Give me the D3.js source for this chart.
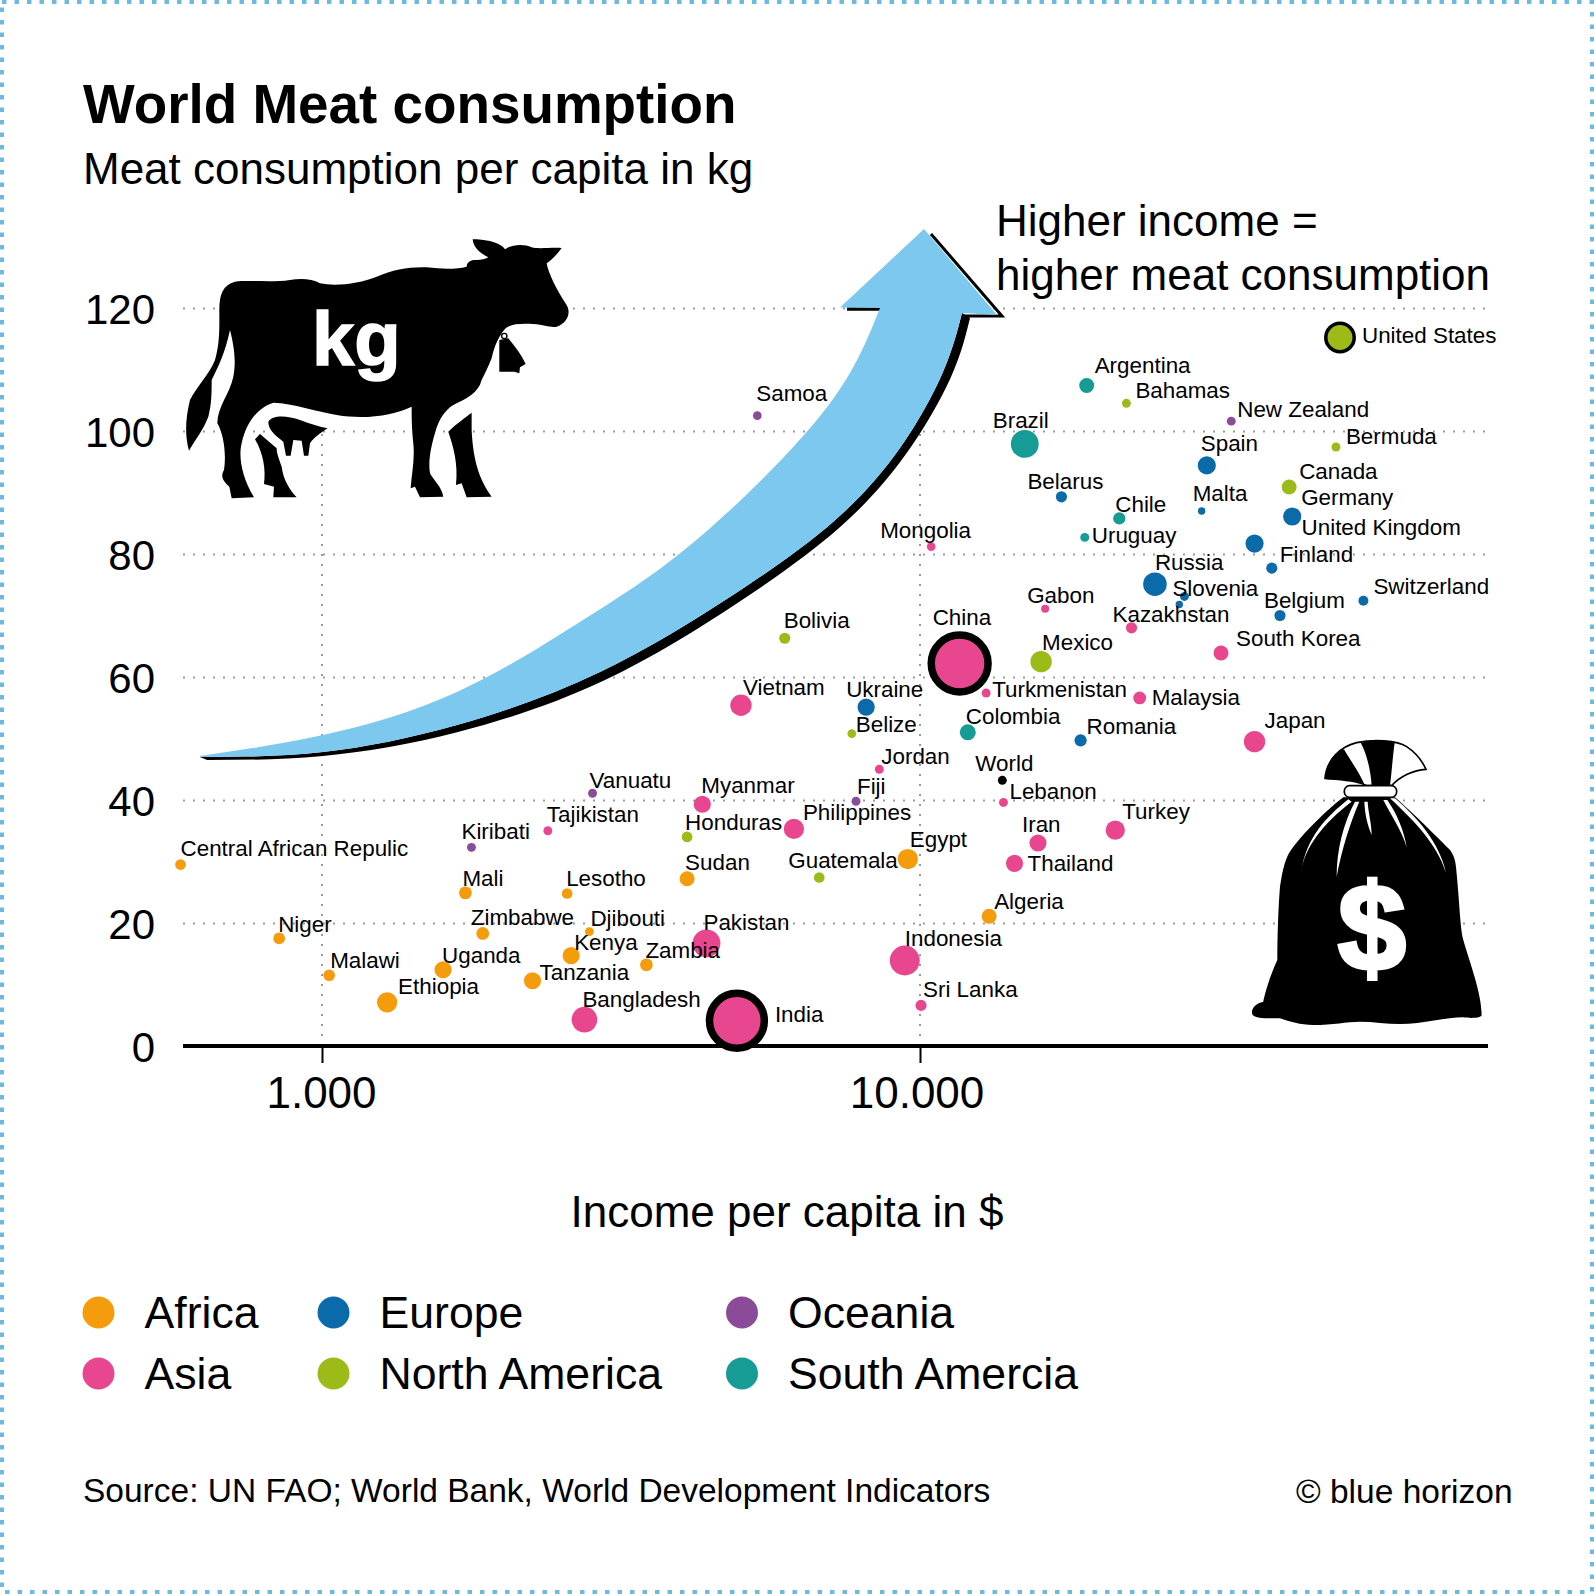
<!DOCTYPE html>
<html>
<head>
<meta charset="utf-8">
<script src="https://cdnjs.cloudflare.com/ajax/libs/d3/7.8.5/d3.min.js"></script>
<style>
html, body { margin: 0; padding: 0; background: #fff; }
svg { display: block; }
text { font-family: "Liberation Sans", Arial, sans-serif; fill: #000; }
</style>
</head>
<body>
<svg id="chart" width="1594" height="1594"></svg>
<script>
// values
var countries = ['Central African Repulic','Niger','Malawi','Ethiopia','Uganda','Mali','Zimbabwe','Tanzania','Lesotho','Kenya','Djibouti','Zambia','Sudan','Egypt','Algeria',
  'Bangladesh','India','Pakistan','Myanmar','Tajikistan','Vietnam','Philippines','Indonesia','Sri Lanka','Jordan','China','Mongolia','Turkmenistan','Iran','Thailand','Lebanon','Turkey','Malaysia','Japan','South Korea','Kazakhstan','Gabon',
  'Ukraine','Romania','Russia','Slovenia','','Spain','Belarus','Malta','Germany','United Kingdom','Finland','Belgium','Switzerland',
  'United States','Canada','Bermuda','Bahamas','Mexico','Bolivia','Belize','Honduras','Guatemala',
  'Argentina','Brazil','Chile','Uruguay','Colombia',
  'Samoa','Vanuatu','Kiribati','Fiji','New Zealand','World']
var continents = ['Africa','Africa','Africa','Africa','Africa','Africa','Africa','Africa','Africa','Africa','Africa','Africa','Africa','Africa','Africa',
  'Asia','Asia','Asia','Asia','Asia','Asia','Asia','Asia','Asia','Asia','Asia','Asia','Asia','Asia','Asia','Asia','Asia','Asia','Asia','Asia','Asia','Asia',
  'Europe','Europe','Europe','Europe','Europe','Europe','Europe','Europe','Europe','Europe','Europe','Europe','Europe',
  'North America','North America','North America','North America','North America','North America','North America','North America','North America',
  'South Amercia','South Amercia','South Amercia','South Amercia','South Amercia',
  'Oceania','Oceania','Oceania','Oceania','Oceania','World']
var income = [580,848,1028,1285,1594,1737,1857,2249,2570,2610,2800,3487,4079,9541,13050,
  2747,4941,4395,4325,2386,5019,6154,9430,10040,8550,11650,10440,12900,15750,14390,13790,21210,23300,36260,31870,22580,16190,
  8127,18560,24710,27680,27140,30170,17240,29580,41920,36260,38750,39990,55140,
  50390,41430,49610,22140,15940,5940,7690,4079,6785,
  19000,14970,21540,18860,12020,
  5345,2834,1778,7815,33150,13730]
var meat = [29.5,17.5,11.5,7.1,12.4,24.9,18.3,10.6,24.8,14.7,18.6,13.2,27.2,30.4,21.1,
  4.3,4.1,16.7,39.3,35,55.4,35.3,13.9,6.6,45,62.2,81.2,57.4,33,29.7,39.6,35.1,56.6,49.5,63.9,68,71.1,
  55.1,49.7,75.1,73.1,71.8,94.4,89.3,87,86.1,81.7,77.7,70,72.4,
  115.2,90.9,97.4,104.5,62.5,66.3,50.8,34,27.4,
  107.4,97.9,85.8,82.7,51,
  102.5,41.1,32.3,39.8,101.6,43.2]
// bubble areas, in millions of people
var population = [46,55,55,166,118,66,66,118,46,118,32,66,90,166,90,
  265,1210,311,118,32,184,166,360,50,32,1300,30,32,118,118,32,149,66,184,90,50,26,
  118,60,222,32,22,133,50,22,133,133,50,50,40,
  325,90,32,32,184,50,30,46,46,
  90,311,60,32,103,
  30,32,32,32,32,32]

var yTicks = [0,20,40,60,80,100,120]
var xTicks = [1000,10000]
var legendRows = [['Africa','Asia'],['Europe','North America'],['Oceania','South Amercia']]

var colors = {
  'Africa': '#f59c0c', 'Asia': '#e8478f', 'Europe': '#0b6aa9',
  'North America': '#9dbb18', 'Oceania': '#8a4b98', 'South Amercia': '#169b95', 'World': '#000'
}
var ringed = ['India','China','United States']

// label start relative to the bubble centre, placed by hand
var labelOffsets = {
  'Central African Repulic':[0,-9],'Niger':[-1,-6],'Malawi':[1,-7],'Ethiopia':[11,-8],'Uganda':[-1,-7],'Mali':[-3,-7],'Zimbabwe':[-12,-8],'Tanzania':[7,-1],'Lesotho':[-1,-7],'Kenya':[3,-6],'Djibouti':[1,-6],'Zambia':[-1,-7],'Sudan':[-2,-9],'Egypt':[2,-12],'Algeria':[5,-7],
  'Bangladesh':[-2,-13],'India':[38,1],'Pakistan':[-3,-13],'Myanmar':[-1,-11],'Tajikistan':[-1,-9],'Vietnam':[2,-10],'Philippines':[9,-9],'Indonesia':[0,-15],'Sri Lanka':[2,-8],'Jordan':[2,-5],'China':[-27,-38],'Mongolia':[-51,-9],'Turkmenistan':[6,4],'Iran':[-16,-11],'Thailand':[13,8],'Lebanon':[6,-3],'Turkey':[7,-11],'Malaysia':[12,7],'Japan':[10,-14],'South Korea':[15,-7],'Kazakhstan':[-19,-6],'Gabon':[-18,-6],
  'Ukraine':[-20,-10],'Romania':[6,-6],'Russia':[0,-14],'Slovenia':[-12,0],'Spain':[-6,-14],'Belarus':[-34,-8],'Malta':[-9,-10],'Germany':[9,-11],'United Kingdom':[47,-9],'Finland':[8,-6],'Belgium':[-16,-8],'Switzerland':[10,-7],
  'United States':[22,5],'Canada':[10,-8],'Bermuda':[10,-3],'Bahamas':[9,-5],'Mexico':[1,-12],'Bolivia':[-1,-10],'Belize':[4,-2],'Honduras':[-2,-7],'Guatemala':[-31,-9],
  'Argentina':[8,-12],'Brazil':[-32,-16],'Chile':[-4,-6],'Uruguay':[7,6],'Colombia':[-2,-8],
  'Samoa':[-1,-15],'Vanuatu':[-3,-5],'Kiribati':[-10,-8],'Fiji':[1,-7],'New Zealand':[6,-4],'World':[-27,-9]
}

var svg = d3.select('#chart')

var left = 183, right = 1488, bottom = 1046

var x = d3.scaleLog().domain([1000,10000]).range([322,920])
var y = d3.scaleLinear().domain([0,120]).range([bottom,308])
var r = d3.scaleSqrt().domain([0,1400]).range([0,29.5])

// dotted frame
svg.append('rect')
  .attr('x',2).attr('y',2).attr('width',1590).attr('height',1590)
  .attr('fill','none').attr('stroke','#6db9e0').attr('stroke-width',4)
  .attr('stroke-dasharray','4.5 8')

// horizontal grid and y labels
var yAxis = svg.append('g')
  .attr('transform','translate('+left+',0)')
  .call(d3.axisLeft(y).tickValues(yTicks).tickSize(-(right-left)).tickPadding(28))
yAxis.select('.domain').remove()
yAxis.selectAll('line')
  .attr('stroke','#9a9a9a').attr('stroke-width',2).attr('stroke-dasharray','2 8')
yAxis.selectAll('text')
  .attr('font-size',42).attr('font-family','"Liberation Sans"').attr('fill','#000')
  .attr('dy','0.37em')

// vertical grid stops at the 100 line
svg.selectAll('.vgrid')
  .data(xTicks)
  .enter()
  .append('line')
  .attr('class','vgrid')
  .attr('x1',function(d){ return x(d) })
  .attr('x2',function(d){ return x(d) })
  .attr('y1',bottom)
  .attr('y2',y(100))
  .attr('stroke','#9a9a9a').attr('stroke-width',2).attr('stroke-dasharray','2 8')

// x axis
var xAxis = svg.append('g')
  .attr('transform','translate(0,'+bottom+')')
  .call(d3.axisBottom(x).tickValues(xTicks).tickSize(17).tickPadding(14)
    .tickFormat(function(d){ return d3.format(',')(d).replace(',','.') }))
xAxis.select('.domain').remove()
xAxis.selectAll('line').attr('stroke','#000').attr('stroke-width',2)
xAxis.selectAll('text')
  .attr('font-size',44).attr('font-family','"Liberation Sans"').attr('fill','#000')
  .attr('x',function(d){ return d == 10000 ? -3.5 : -1 })
svg.append('line')
  .attr('x1',left).attr('x2',right).attr('y1',bottom).attr('y2',bottom)
  .attr('stroke','#000').attr('stroke-width',4)

// curved arrow with black edge
var arrowUpper = [[200,756],[323,735],[457,692],[583,620],[683,551],[783,458],[847,378],[880,308]]
var arrowLower = [[962,313],[943,372],[900,448],[833,522],[733,595],[600,672],[457,725],[323,752],[200,757]]
var arrowShadow = [[970,318],[951,377],[906,454],[839,528],[739,602],[605,680],[458,732],[323,756],[207,760]]
var curve = d3.line().curve(d3.curveNatural)
svg.append('path').attr('fill','#000')
  .attr('d',curve(arrowShadow) + curve(arrowLower.slice().reverse()).replace(/^M/,'L') + 'Z')
svg.append('path').attr('fill','none').attr('stroke','#000').attr('stroke-width',3)
  .attr('d','M931,234L1002,316L962,316')
svg.append('path').attr('fill','none').attr('stroke','#000').attr('stroke-width',3.5)
  .attr('d','M847,309L881,309')
svg.append('path').attr('fill','#7cc8ee')
  .attr('d',curve(arrowUpper) + 'L840,307.5L924,229L997,315L962,313' + curve(arrowLower).replace(/^M/,'L') + 'Z')

// cow, traced in crop coordinates
var cow = svg.append('g').attr('transform','translate(180,230) scale(0.3333)')
var cowShapes = [
  'M118,240C118,190 130,165 165,155C210,150 280,158 330,150C360,145 395,145 420,160C470,170 540,160 590,140C640,118 690,110 740,112C790,118 830,118 860,110C860,95 875,88 890,90C905,90 915,88 925,82' +
  'C905,72 880,55 878,28C910,28 960,35 975,58C990,45 1030,40 1055,52C1075,58 1110,52 1145,54C1130,75 1115,90 1100,100C1105,130 1130,180 1160,225C1175,250 1160,280 1130,290C1110,293 1095,285 1060,282C1030,280 990,280 975,297' +
  'C960,315 945,340 935,385C925,410 915,430 905,450C895,490 860,505 820,525C795,540 775,570 765,610C750,660 745,700 750,730C760,750 785,770 790,800L720,802L705,770L692,775C695,730 705,690 700,640C695,590 695,560 695,530' +
  'C640,555 560,570 470,555C410,545 340,520 280,518C240,530 200,570 185,640C175,680 185,740 222,802L155,805L148,770C130,755 120,740 132,720C140,670 130,610 112,580C112,530 150,490 160,440C170,390 160,340 150,300' +
  'C135,370 115,410 95,450C95,490 95,520 85,560C70,600 45,630 27,662C15,620 15,570 30,510C50,470 90,430 105,390C120,340 118,290 118,240Z',
  'M875,548C860,560 830,580 805,605C820,650 835,700 828,765L845,760L860,802L935,800C900,750 880,700 875,600Z',
  'M240,612L225,628C250,670 258,720 252,762L282,770L280,802L350,802C330,780 310,750 305,710C295,680 290,670 290,655Z',
  'M265,575C275,555 320,555 360,570C390,582 420,590 443,595C420,610 400,625 390,640L385,677L372,677L365,632L340,630L332,677L318,677L310,635C285,615 265,600 265,575Z',
  'M958,330L985,325C1005,350 1025,375 1037,402L1020,412L1018,430L1003,425L958,425Z'
]
cow.selectAll('path')
  .data(cowShapes)
  .enter()
  .append('path')
  .attr('fill','#000')
  .attr('d',function(d){ return d })
cow.append('circle').attr('cx',973).attr('cy',318).attr('r',8)
  .attr('fill','#fff').attr('stroke','#000').attr('stroke-width',4)
svg.append('text').text('kg')
  .attr('x',312).attr('y',365)
  .attr('font-size',76).attr('font-weight','bold')
  .style('fill','#fff').style('stroke','#fff').style('stroke-width',1.5)

// money bag, traced in crop coordinates
var bag = svg.append('g').attr('transform','translate(1200,720) scale(0.3333)')
bag.append('path').attr('fill','#000').attr('d',
  'M430,232C380,270 320,330 280,380C255,410 248,450 240,500C235,560 232,650 232,720C200,790 190,845 190,845C165,850 150,870 158,885C170,897 210,895 240,895C270,905 300,915 340,915C400,915 440,905 480,905C520,905 560,912 600,912C670,912 740,892 790,892C810,895 845,895 845,885C845,820 810,730 790,660C780,620 780,560 768,440C765,410 755,395 745,385C710,350 640,280 585,232Z')
bag.append('path').attr('fill','#fff').attr('stroke','#000').attr('stroke-width',5).attr('d',
  'M375,175C380,120 420,80 470,68C520,58 590,60 620,80C650,100 670,130 678,148C640,150 600,170 575,197L500,197C470,180 420,180 375,175Z')
bag.append('path').attr('fill','#000').attr('d',
  'M375,175C380,120 410,95 432,88C450,120 480,160 495,197C470,180 420,180 375,175Z')
bag.append('path').attr('fill','#000').attr('d',
  'M482,68C520,58 560,60 584,68C578,110 575,160 570,197L515,197C512,150 500,100 482,68Z')
bag.append('rect').attr('x',433).attr('y',197).attr('width',157).attr('height',35).attr('rx',16)
  .attr('fill','#fff').attr('stroke','#000').attr('stroke-width',5)
var bagStreaks = [
  'M445,238C380,290 320,350 303,455C315,380 370,310 455,245Z',
  'M465,245C430,310 410,390 410,470C425,390 450,310 478,245Z',
  'M493,245C495,290 505,320 515,345C515,310 505,280 503,245Z',
  'M550,240C575,290 605,330 620,382C612,330 590,280 562,240Z',
  'M570,235C640,300 710,370 738,458C720,370 650,290 585,235Z'
]
bag.selectAll('.streak')
  .data(bagStreaks)
  .enter()
  .append('path')
  .attr('class','streak')
  .attr('fill','#fff')
  .attr('d',function(d){ return d })
svg.append('text').text('$')
  .attr('x',1372).attr('y',970).attr('text-anchor','middle')
  .attr('font-size',122).attr('font-weight','bold')
  .style('fill','#fff').style('stroke','#fff').style('stroke-width',4)

// bubbles
var data = countries.map(function(name,i){
  return { name: name, continent: continents[i], income: income[i], meat: meat[i], pop: population[i] }
})

svg.selectAll('.dot')
  .data(data)
  .enter()
  .append('circle')
  .attr('class','dot')
  .attr('cx',function(d){ return x(d.income) })
  .attr('cy',function(d){ return y(d.meat) })
  .attr('r',function(d){ return r(d.pop) })
  .attr('fill',function(d){ return colors[d.continent] })
  .attr('stroke',function(d){ return ringed.indexOf(d.name) >= 0 ? '#000' : 'none' })
  .attr('stroke-width',function(d){ return d.name == 'United States' ? 3.5 : 7.5 })

svg.selectAll('.label')
  .data(data.filter(function(d){ return d.name != '' }))
  .enter()
  .append('text')
  .attr('class','label')
  .attr('x',function(d){ return x(d.income) + labelOffsets[d.name][0] })
  .attr('y',function(d){ return y(d.meat) + labelOffsets[d.name][1] })
  .attr('font-size',22.4)
  .text(function(d){ return d.name })

// titles
svg.append('text').text('World Meat consumption')
  .attr('x',83).attr('y',123).attr('font-size',54.8).attr('font-weight','bold')
svg.append('text').text('Meat consumption per capita in kg')
  .attr('x',83).attr('y',184).attr('font-size',44)
svg.append('text').text('Higher income =')
  .attr('x',996).attr('y',236).attr('font-size',44)
svg.append('text').text('higher meat consumption')
  .attr('x',996).attr('y',290).attr('font-size',44)
svg.append('text').text('Income per capita in $')
  .attr('x',787).attr('y',1227).attr('text-anchor','middle').attr('font-size',44)

// legend
var legendX = [98.5,333.5,742]
var legendY = [1312.5,1373.5]
legendRows.forEach(function(column,c){
  column.forEach(function(name,i){
    svg.append('circle')
      .attr('cx',legendX[c]).attr('cy',legendY[i]).attr('r',16)
      .attr('fill',colors[name])
    svg.append('text').text(name)
      .attr('x',legendX[c]+46).attr('y',legendY[i]+15.5).attr('font-size',44.6)
  })
})

// footer
svg.append('text').text('Source: UN FAO; World Bank, World Development Indicators')
  .attr('x',83).attr('y',1502).attr('font-size',33.5)
svg.append('text').text('© blue horizon')
  .attr('x',1296).attr('y',1503).attr('font-size',33.5)
</script>
</body>
</html>
